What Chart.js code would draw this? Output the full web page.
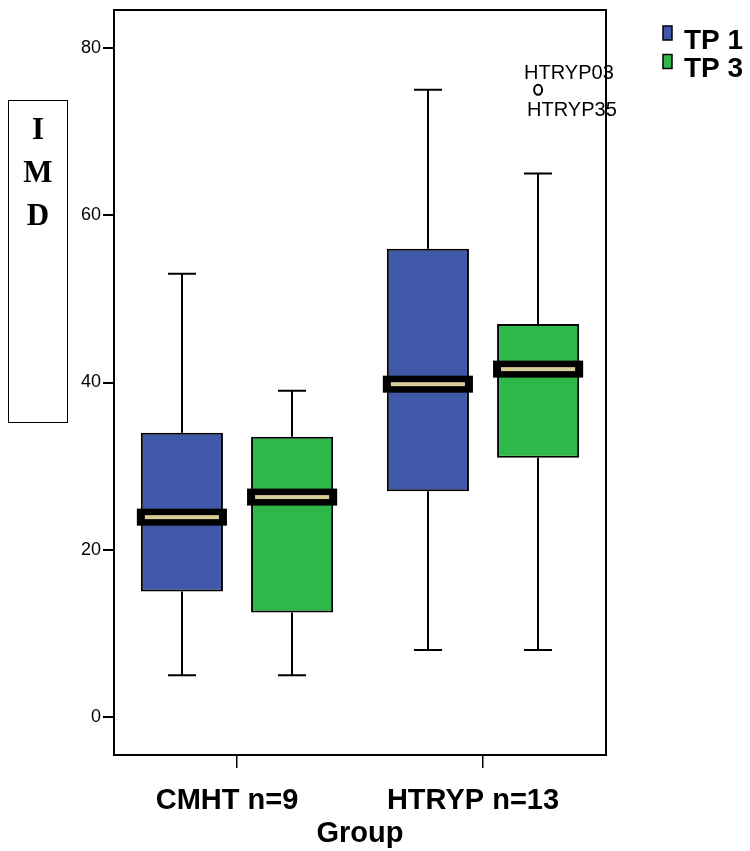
<!DOCTYPE html>
<html>
<head>
<meta charset="utf-8">
<script src="https://cdn.jsdelivr.net/npm/chart.js@4.4.0/dist/chart.umd.min.js"></script>
<style>
  html, body { margin: 0; padding: 0; background: #ffffff; }
  #wrap { width: 750px; height: 851px; position: relative; }
</style>
</head>
<body>
<div id="wrap"><canvas id="c" width="750" height="851"></canvas></div>
<script>
// ---- data ----
const categories = ['CMHT n=9', 'HTRYP n=13'];
const seriesNames = ['TP 1', 'TP 3'];
const yTicks = [0, 20, 40, 60, 80];

const tp1Min    = [5, 8];
const tp1Q1     = [15, 27];
const tp1Median = [23.9, 39.8];
const tp1Q3     = [34, 56];
const tp1Max    = [53, 75];

const tp3Min    = [5, 8];
const tp3Q1     = [12.5, 31];
const tp3Median = [26.3, 41.6];
const tp3Q3     = [33.5, 47];
const tp3Max    = [39, 65];

// outliers
const outlierCategory = [1];
const outlierSeries   = [1];
const outlierValue    = [75];
const outlierLabelsA  = ['HTRYP03'];
const outlierLabelsB  = ['HTRYP35'];

const colors = ['#3F58A8', '#2FB84A'];

const stats = [
  { min: tp1Min, q1: tp1Q1, med: tp1Median, q3: tp1Q3, max: tp1Max },
  { min: tp3Min, q1: tp3Q1, med: tp3Median, q3: tp3Q3, max: tp3Max }
];

const boxPlugin = {
  id: 'boxPlugin',
  beforeDatasetsDraw(chart) {
    const ctx = chart.ctx, y = chart.scales.y;
    ctx.save();
    ctx.strokeStyle = '#000';
    ctx.lineWidth = 2;
    stats.forEach((s, di) => {
      const meta = chart.getDatasetMeta(di);
      meta.data.forEach((bar, i) => {
        const cx = Math.round(bar.x);
        const capHalf = 14;
        const yMax = y.getPixelForValue(s.max[i]);
        const yQ3 = y.getPixelForValue(s.q3[i]);
        const yQ1 = y.getPixelForValue(s.q1[i]);
        const yMin = y.getPixelForValue(s.min[i]);
        ctx.beginPath();
        ctx.moveTo(cx, yQ3); ctx.lineTo(cx, yMax);
        ctx.moveTo(cx - capHalf, yMax); ctx.lineTo(cx + capHalf, yMax);
        ctx.moveTo(cx, yQ1); ctx.lineTo(cx, yMin);
        ctx.moveTo(cx - capHalf, yMin); ctx.lineTo(cx + capHalf, yMin);
        ctx.stroke();
      });
    });
    ctx.restore();
  },
  afterDatasetsDraw(chart) {
    const ctx = chart.ctx, y = chart.scales.y;
    ctx.save();
    stats.forEach((s, di) => {
      const meta = chart.getDatasetMeta(di);
      meta.data.forEach((bar, i) => {
        const ym = y.getPixelForValue(s.med[i]);
        const left = bar.x - bar.width / 2;
        ctx.fillStyle = '#000';
        ctx.fillRect(left - 4, ym - 8.5, bar.width + 8, 17);
        ctx.fillStyle = '#D6CD98';
        ctx.fillRect(left + 4, ym - 2, bar.width - 8, 4);
      });
    });
    // outliers
    outlierValue.forEach((v, k) => {
      const bar = chart.getDatasetMeta(outlierSeries[k]).data[outlierCategory[k]];
      const px = bar.x, py = y.getPixelForValue(v);
      ctx.beginPath();
      ctx.ellipse(px, py, 4, 5, 0, 0, Math.PI * 2);
      ctx.fillStyle = '#fff';
      ctx.fill();
      ctx.lineWidth = 2;
      ctx.strokeStyle = '#000';
      ctx.stroke();
      ctx.fillStyle = '#000';
      ctx.font = '20px Arial, "Liberation Sans", sans-serif';
      ctx.textAlign = 'left';
      ctx.textBaseline = 'alphabetic';
      ctx.fillText(outlierLabelsA[k], px - 14, py - 11);
      ctx.fillText(outlierLabelsB[k], px - 11, py + 26);
    });
    // frame
    const a = chart.chartArea;
    ctx.lineWidth = 2;
    ctx.strokeStyle = '#000';
    ctx.strokeRect(a.left, a.top, a.right - a.left, a.bottom - a.top);

    // y axis title box
    ctx.lineWidth = 1;
    ctx.strokeRect(8.5, 100.5, 59, 322);
    ctx.font = 'bold 31px "Liberation Serif", "Times New Roman", serif';
    ctx.textAlign = 'center';
    ctx.textBaseline = 'middle';
    ['I', 'M', 'D'].forEach((ch, k) => ctx.fillText(ch, 38, 131 + k * 43));

    // legend
    ctx.font = 'bold 28px Arial, "Liberation Sans", sans-serif';
    ctx.textAlign = 'left';
    ctx.textBaseline = 'alphabetic';
    seriesNames.forEach((name, k) => {
      const top = 26 + k * 28.5;
      ctx.fillStyle = colors[k];
      ctx.fillRect(663, top, 9, 14);
      ctx.lineWidth = 1.5;
      ctx.strokeStyle = '#000';
      ctx.strokeRect(663, top, 9, 14);
      ctx.fillStyle = '#000';
      ctx.fillText(name, 684, 49 + k * 28);
    });
    ctx.restore();
  }
};

new Chart(document.getElementById('c'), {
  type: 'bar',
  data: {
    labels: categories,
    datasets: stats.map((s, di) => ({
      label: seriesNames[di],
      data: categories.map((c, i) => [s.q1[i], s.q3[i]]),
      backgroundColor: colors[di],
      borderColor: '#000',
      borderWidth: 2,
      borderSkipped: false,
      categoryPercentage: 0.896,
      barPercentage: 0.745
    }))
  },
  options: {
    responsive: false,
    animation: false,
    layout: { padding: { left: 0, right: 144, top: 10, bottom: 0 } },
    plugins: { legend: { display: false }, tooltip: { enabled: false } },
    scales: {
      x: {
        grid: { display: true, offset: false, drawOnChartArea: false, tickLength: 13, color: '#000', lineWidth: 1.5 },
        border: { display: false },
        ticks: {
          color: '#000',
          padding: 16,
          labelOffset: -10,
          font: { family: 'Arial, "Liberation Sans", sans-serif', size: 29, weight: 'bold' }
        },
        title: {
          display: true,
          text: 'Group',
          color: '#000',
          padding: { top: 0, bottom: 0 },
          font: { family: 'Arial, "Liberation Sans", sans-serif', size: 29, weight: 'bold' }
        },
        afterFit(scale) { scale.height = 96; scale.paddingLeft = 0; scale.paddingRight = 0; }
      },
      y: {
        min: -4.54,
        max: 84.54,
        afterBuildTicks(scale) { scale.ticks = yTicks.map(v => ({ value: v })); },
        grid: { display: true, drawOnChartArea: false, tickLength: 11, color: '#000', lineWidth: 2 },
        border: { display: false },
        ticks: {
          color: '#000',
          padding: 2,
          font: { family: 'Arial, "Liberation Sans", sans-serif', size: 18 }
        },
        afterFit(scale) { scale.width = 114; scale.paddingTop = 0; scale.paddingBottom = 0; }
      }
    }
  },
  plugins: [boxPlugin]
});
</script>
</body>
</html>
